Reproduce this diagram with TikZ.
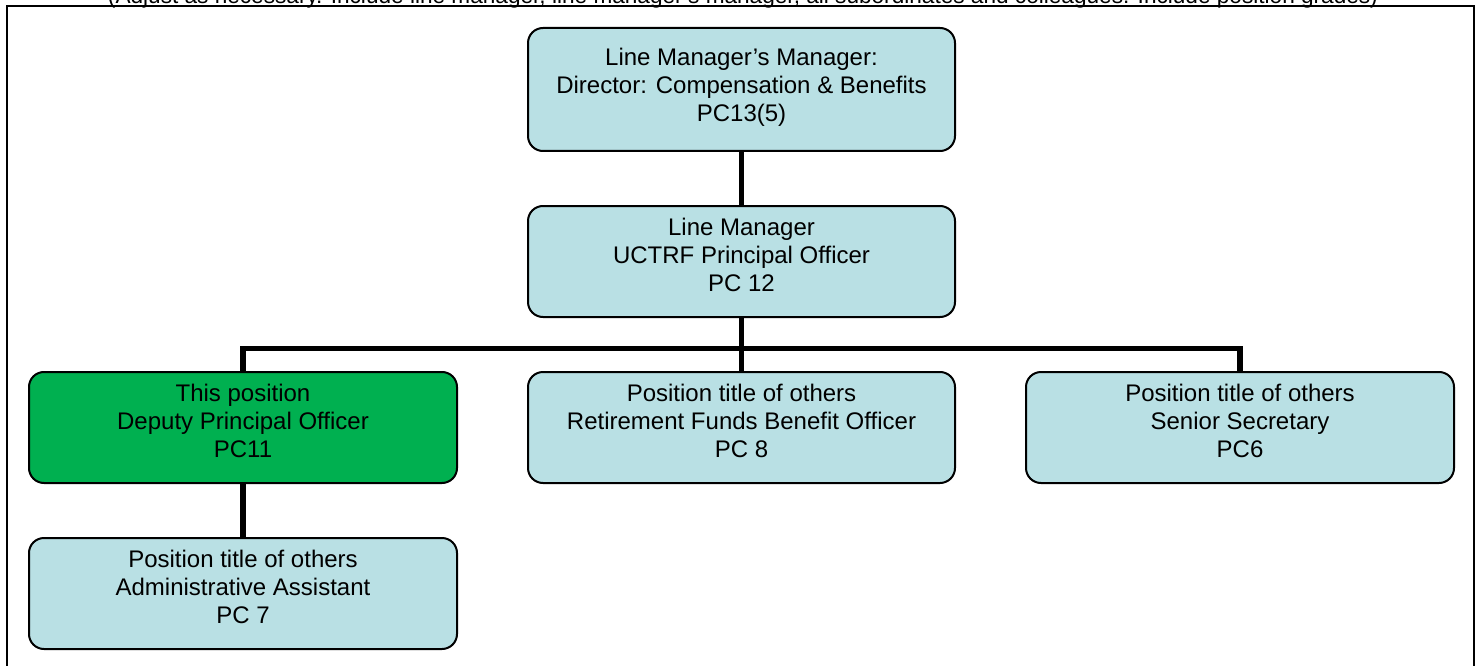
\documentclass[tikz,border=0pt]{standalone}
\usepackage{fontspec}
\setmainfont{Liberation Sans}
\definecolor{paleblue}{RGB}{185,224,228}
\definecolor{posgreen}{RGB}{0,176,80}
\begin{document}
\begin{tikzpicture}[x=1pt,y=-1pt,
  post/.style={draw=black, line width=2pt, rounded corners=15pt, fill=paleblue,
    minimum width=427pt, minimum height=111pt, inner sep=0pt},
  posttext/.style={align=center, inner sep=0pt, yshift=7pt,
    font=\fontsize{24}{28}\selectfont},
  conn/.style={draw=black, line width=5.5pt}]
\useasboundingbox (0,0) rectangle (1483,666);
% outer frame (open at the bottom)
\draw[line width=2pt] (7,690) -- (7,6) -- (1474,6) -- (1474,690);
% instruction line above the frame
\node[anchor=base, inner sep=0pt] (note) at (743,3.5)
  {\resizebox{1270pt}{!}{(Adjust as necessary. Include line manager, line manager’s manager, all subordinates and colleagues. Include position grades)}};
% positions
\node[post, minimum height=123pt,
  label={[posttext, yshift=-5pt]center:{Line Manager’s Manager:\\Director: Compensation \& Benefits\\PC13(5)}}]
  (dir) at (741.5,89.5) {};
\node[post,
  label={[posttext]center:{Line Manager\\UCTRF Principal Officer\\PC 12}}]
  (lm) at (741.5,261.5) {};
\node[post, fill=posgreen, minimum width=428pt,
  label={[posttext]center:{This position\\Deputy Principal Officer\\PC11}}]
  (this) at (243,427.5) {};
\node[post,
  label={[posttext]center:{Position title of others\\Retirement Funds Benefit Officer\\PC 8}}]
  (rfbo) at (741.5,427.5) {};
\node[post, minimum width=428pt,
  label={[posttext]center:{Position title of others\\Senior Secretary\\PC6}}]
  (sec) at (1240,427.5) {};
\node[post, minimum width=428pt,
  label={[posttext]center:{Position title of others\\Administrative Assistant\\PC 7}}]
  (admin) at (243,593.5) {};
% reporting lines
\coordinate (bus) at (741.5,348.5);
\draw[conn] (dir.south) -- (lm.north);
\draw[conn] (lm.south) -- (rfbo.north);
\draw[conn] (this.north) |- (bus) -| (sec.north);
\draw[conn] (this.south) -- (admin.north);
\end{tikzpicture}
\end{document}
